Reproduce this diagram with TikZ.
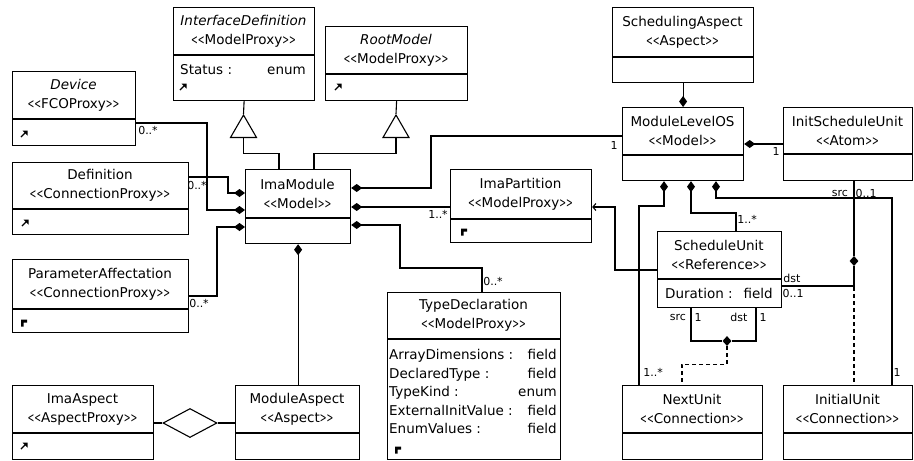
\documentclass[tikz,border=0pt]{standalone}
\usepackage{fontspec}
\usepackage{graphicx}
\setmainfont{DejaVu Sans}
\usetikzlibrary{arrows.meta,shapes.geometric}
\newcommand\stereo[1]{\scalebox{0.6}[1]{<{}<}#1\scalebox{0.6}[1]{>{}>}}
\newcommand\umlbox[8]{%
  \node[box, minimum width={(#4-#2)*1pt}, minimum height={(#5-#3)*1pt}] (#1) at (#2,#3) {};
  \draw[line width=1.2pt] (#2,#6) -- (#4,#6);
  \node[txt, align=center] (#1-t) at ({(#2+#4)/2},{(#3+#6)/2}) {#7\\#8};
}
\newcommand\iconA[2]{%
  \draw[line width=1.4pt] (#1-3,#2+3) -- (#1+1.5,#2-1.5);
  \fill (#1+3.5,#2-3.5) -- (#1-1.5,#2-3.5) -- (#1+3.5,#2+1.5) -- cycle;
}
\newcommand\iconB[2]{%
  \fill (#1-3,#2-3.5) -- (#1+3,#2-3.5) -- (#1+3,#2-0.5) -- (#1-0.5,#2-0.5) -- (#1-0.5,#2+3.5) -- (#1-3,#2+3.5) -- cycle;
}
\tikzset{
  box/.style={draw, line width=1.2pt, inner sep=0pt, anchor=north west},
  txt/.style={font=\fontsize{13.5}{19}\selectfont, inner sep=0pt},
  lbl/.style={font=\fontsize{11}{12}\selectfont, inner sep=0pt},
  conn/.style={line width=1.1pt},
  comp/.style={conn, {Diamond[length=11pt,width=8pt]}-},
  dashline/.style={conn, dash pattern=on 4pt off 3pt},
  jd/.style={diamond, fill=black, inner sep=0pt, minimum width=9pt, minimum height=10pt},
  gen/.style={regular polygon, regular polygon sides=3, draw, line width=1.1pt, minimum size=30pt, inner sep=0pt},
}
\begin{document}
\begin{tikzpicture}[x=1pt,y=-1pt]
\fill[white] (0,0) rectangle (914,461);
\useasboundingbox (0,0) rectangle (914,461);

% boxes
\umlbox{device}{12}{71}{135}{145}{119}{\textit{Device}}{\stereo{FCOProxy}}
\umlbox{interface}{173}{7}{314}{100}{55}{\textit{InterfaceDefinition}}{\stereo{ModelProxy}}
\umlbox{rootmodel}{325}{26}{467}{100}{74}{\textit{RootModel}}{\stereo{ModelProxy}}
\umlbox{definition}{12}{162}{188}{234}{209}{Definition}{\stereo{ConnectionProxy}}
\umlbox{param}{12}{259}{188}{332}{309}{ParameterAffectation}{\stereo{ConnectionProxy}}
\umlbox{imaaspect}{12}{385}{153}{459}{433}{ImaAspect}{\stereo{AspectProxy}}
\umlbox{moduleaspect}{235}{385}{359}{459}{433}{ModuleAspect}{\stereo{Aspect}}
\umlbox{imamodule}{245}{169}{350}{243}{218}{ImaModule}{\stereo{Model}}
\umlbox{imapartition}{450}{169}{591}{242}{219}{ImaPartition}{\stereo{ModelProxy}}
\umlbox{typedecl}{387}{292}{560}{459}{339}{TypeDeclaration}{\stereo{ModelProxy}}
\umlbox{schedasp}{612}{7}{753}{82}{57}{SchedulingAspect}{\stereo{Aspect}}
\umlbox{modlos}{622}{107}{743}{180}{155}{ModuleLevelOS}{\stereo{Model}}
\umlbox{initsu}{783}{107}{912}{180}{154}{InitScheduleUnit}{\stereo{Atom}}
\umlbox{schedunit}{657}{231}{781}{307}{279}{ScheduleUnit}{\stereo{Reference}}
\umlbox{nextunit}{622}{385}{762}{459}{433}{NextUnit}{\stereo{Connection}}
\umlbox{initialunit}{783}{385}{912}{459}{433}{InitialUnit}{\stereo{Connection}}

% attributes
\node[txt, anchor=base west] (ia1) at (180,74) {Status :};
\node[txt, anchor=base east] (ia2) at (306,74) {enum};
\node[txt, anchor=base west] (sa1) at (665,298) {Duration :};
\node[txt, anchor=base east] (sa2) at (773,298) {field};
\node[txt, anchor=base west] (ta1) at (389,359) {ArrayDimensions :};
\node[txt, anchor=base east] (ta2) at (557,359) {field};
\node[txt, anchor=base west] (ta3) at (389,378) {DeclaredType :};
\node[txt, anchor=base east] (ta4) at (557,378) {field};
\node[txt, anchor=base west] (ta5) at (389,396) {TypeKind :};
\node[txt, anchor=base east] (ta6) at (557,396) {enum};
\node[txt, anchor=base west] (ta7) at (389,415) {ExternalInitValue :};
\node[txt, anchor=base east] (ta8) at (557,415) {field};
\node[txt, anchor=base west] (ta9) at (389,433) {EnumValues :};
\node[txt, anchor=base east] (ta10) at (557,433) {field};

% icons
\iconA{24}{134}
\iconA{183}{87}
\iconA{338}{87}
\iconA{25}{223}
\iconA{24}{446}
\iconB{24}{323}
\iconB{464}{232}
\iconB{398}{450}

% generalization
\node[gen] (g1) at (243.5,130) {};
\node[gen] (g2) at (396,130) {};
\draw[conn] (interface.south) -- (g1.corner 1);
\draw[conn] (g1.south) -- ++(0,15) -| ([xshift=34pt]imamodule.north west);
\draw[conn] (rootmodel.south) -- (g2.corner 1);
\draw[conn] (g2.south) -- ++(0,15) -| ([xshift=69pt]imamodule.north west);

% left of ImaModule
\draw[comp] (imamodule.west |- 0,210) -| (207,123) -- (device.east |- 0,123);
\draw[comp] (imamodule.west |- 0,193) -| (228,177) -- (definition.east |- 0,177);
\draw[comp] (imamodule.west |- 0,227) -| (217,296) -- (param.east |- 0,296);
\node[lbl] (m1) at (148,130) {0..*};
\node[lbl] (m2) at (197,185) {0..*};
\node[lbl] (m3) at (199,303) {0..*};

% right of ImaModule
\draw[comp] (imamodule.east |- 0,188) -| (431,136) -- (modlos.west |- 0,136);
\draw[comp] (imamodule.east |- 0,207) -- (imapartition.west |- 0,207);
\draw[comp] (imamodule.east |- 0,225) -| (400,268) -| (typedecl.north -| 482,0);
\node[lbl] (m4) at (614,145) {1};
\node[lbl] (m5) at (438,214) {1..*};
\node[lbl] (m6) at (493,281) {0..*};

% aspects
\draw[comp] (imamodule.south) -- (imamodule.south |- moduleaspect.north);
\node[diamond, draw, line width=1.1pt, minimum width=54pt, minimum height=29pt, inner sep=0pt] (agg) at (190,423) {};
\draw[conn] (imaaspect.east |- agg) -- (agg.west);
\draw[conn] (agg.east) -- (moduleaspect.west |- agg);
\draw[comp] (modlos.north) -- (schedasp.south);

% ModuleLevelOS
\draw[comp] (modlos.east |- 0,144) -- (initsu.west |- 0,144);
\node[lbl] (m7) at (776,151) {1};
\draw[comp] (modlos.south -| 664,0) |- (639,206) -- (nextunit.north -| 639,0);
\draw[comp] (modlos.south -| 691,0) |- (736,213) -- (schedunit.north -| 736,0);
\draw[comp] (modlos.south -| 716,0) |- (892,198) -- (initialunit.north -| 892,0);
\node[lbl] (m8) at (653,372) {1..*};
\node[lbl] (m9) at (747,219) {1..*};
\node[lbl] (m10) at (897,372) {1};

% reference
\draw[conn, -{Straight Barb[length=3pt,width=7pt]}] (schedunit.west |- 0,270) -| (615,207) -- (imapartition.east |- 0,207);

% NextUnit connection
\node[jd] (j1) at (727,341) {};
\draw[conn] (schedunit.south -| 691,0) |- (j1);
\draw[conn] (j1) -| (schedunit.south -| 756,0);
\draw[dashline] (j1.south) -- ++(0,18) -| (nextunit.north -| 682,0);
\node[lbl] (s1) at (678,317) {src};
\node[lbl] (s2) at (698,317) {1};
\node[lbl] (s3) at (739,317) {dst};
\node[lbl] (s4) at (763,317) {1};

% InitialUnit connection
\node[jd] (j2) at (854,261) {};
\draw[conn] (initsu.south -| 854,0) -- (j2.north);
\draw[conn] (schedunit.east |- 0,286) -| (j2.south);
\draw[dashline] (j2.south) -- (initialunit.north -| 854,0);
\node[lbl] (s5) at (792,278) {dst};
\node[lbl] (s6) at (793,293) {0..1};
\node[lbl] (s7) at (840,193) {src};
\node[lbl] (s8) at (866,193) {0..1};
\end{tikzpicture}
\end{document}
